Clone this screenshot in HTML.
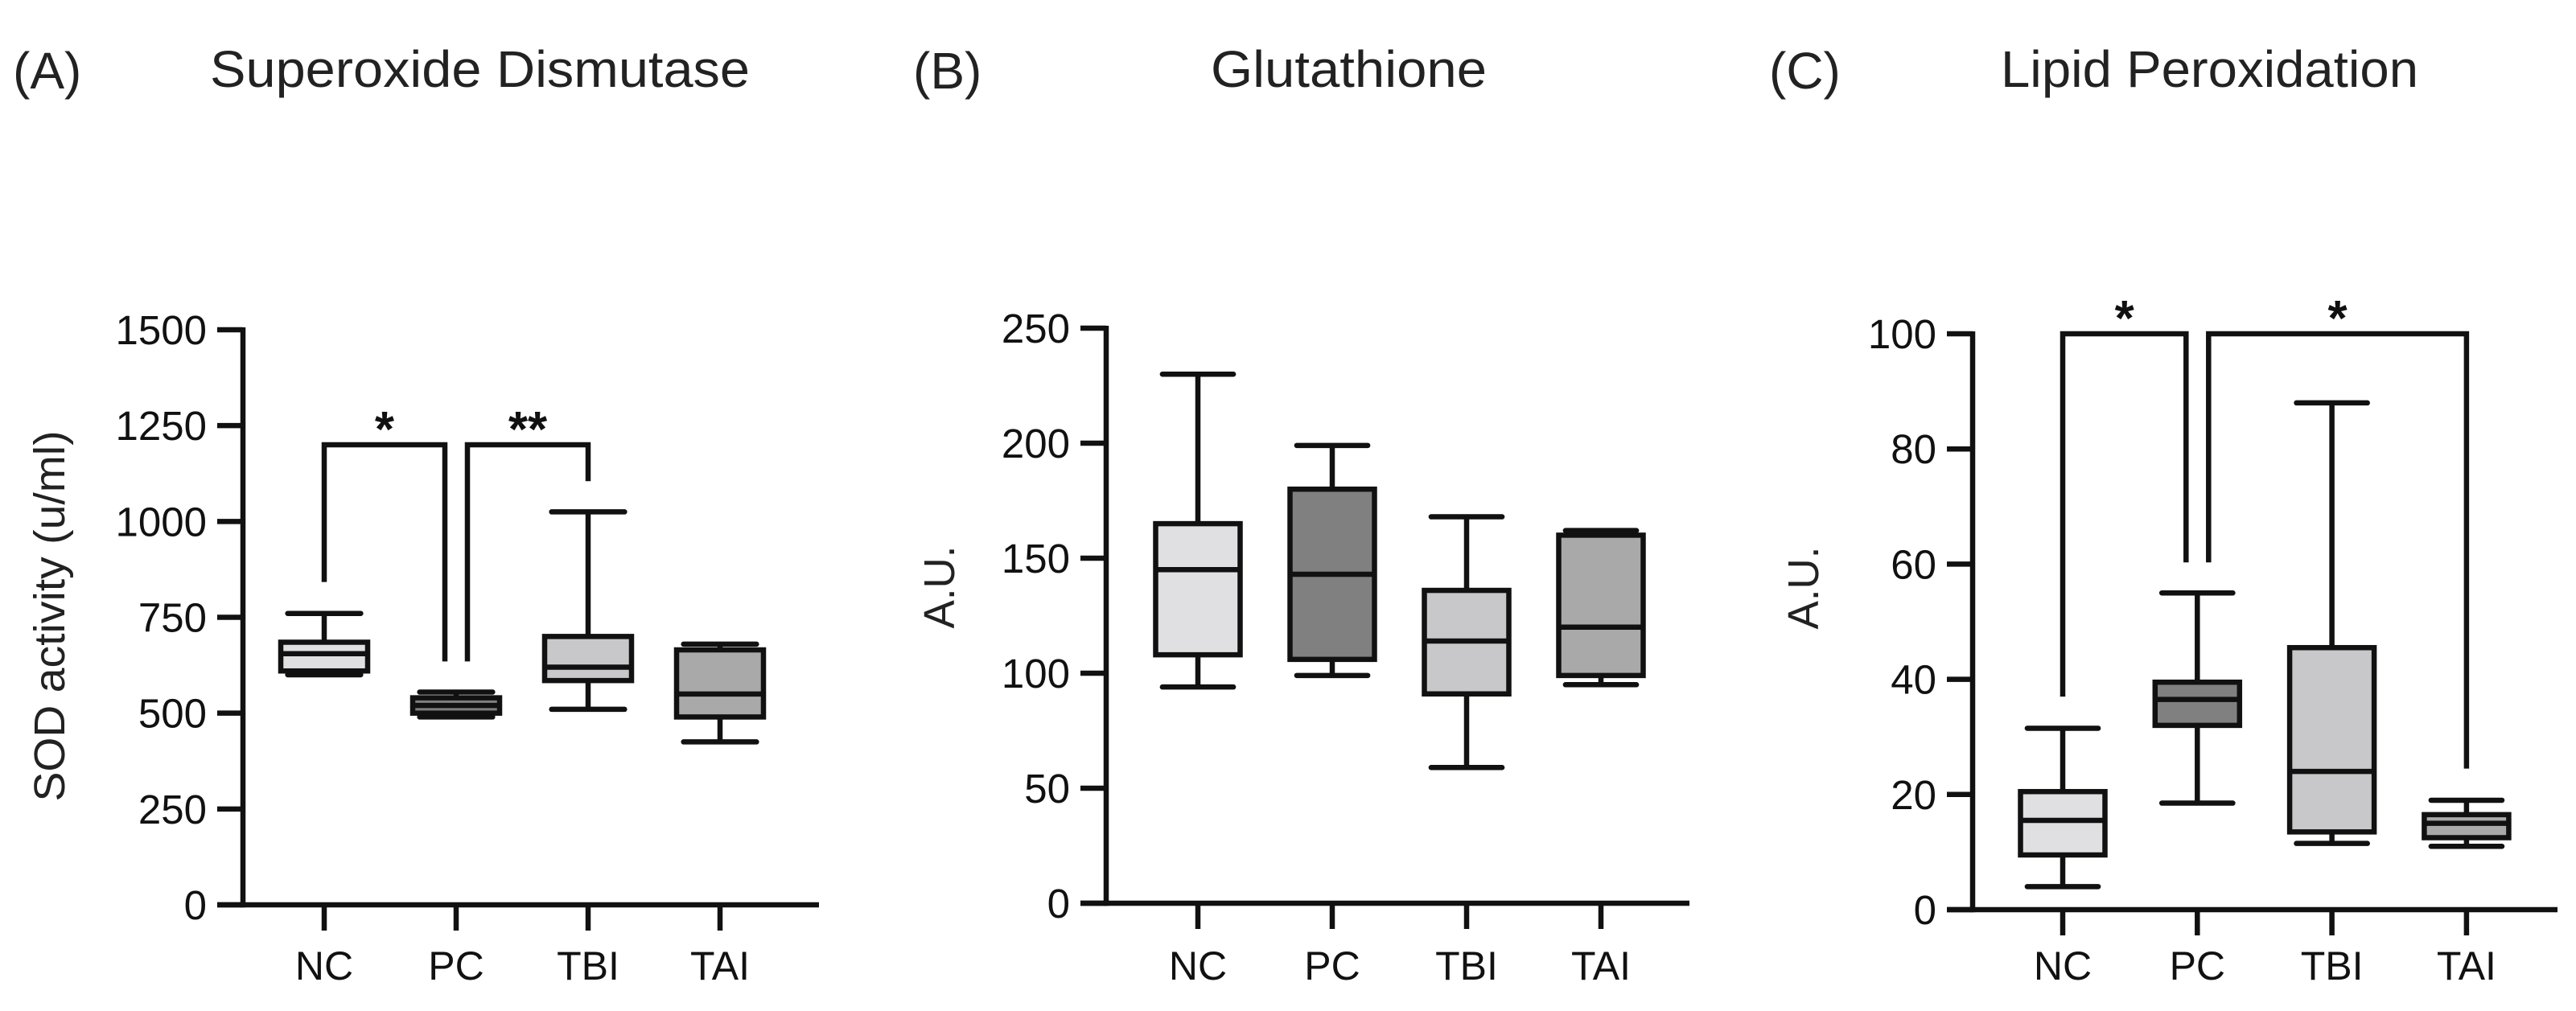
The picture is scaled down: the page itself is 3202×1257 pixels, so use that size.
<!DOCTYPE html>
<html><head><meta charset="utf-8"><style>
html,body{margin:0;padding:0;background:#fff;}
svg{display:block;font-family:"Liberation Sans",Arial,sans-serif;}
</style></head><body>
<svg id="chart" width="3202" height="1257" viewBox="0 0 3202 1257" xmlns="http://www.w3.org/2000/svg">
<rect width="3202" height="1257" fill="#fff"/>
<g>
<text x="16" y="110" font-size="64" fill="#222">(A)</text>
<text x="261" y="108" font-size="64" fill="#222" textLength="671" lengthAdjust="spacingAndGlyphs">Superoxide Dismutase</text>
</g>
<g>
<text x="1135" y="110" font-size="64" fill="#222">(B)</text>
<text x="1505" y="108" font-size="64" fill="#222" textLength="343" lengthAdjust="spacingAndGlyphs">Glutathione</text>
</g>
<g>
<text x="2199" y="110" font-size="64" fill="#222">(C)</text>
<text x="2487" y="108" font-size="64" fill="#222" textLength="519" lengthAdjust="spacingAndGlyphs">Lipid Peroxidation</text>
</g>
</svg>
<script>
const categories = ["NC","PC","TBI","TAI"];
const boxFills = ["#e0e0e2","#808080","#c8c8ca","#a9a9a9"];

// Panel A: SOD
const aTicks = [0,250,500,750,1000,1250,1500];
const aLow  = [600,490,510,425];
const aQ1   = [610,500,585,490];
const aMed  = [655,520,620,550];
const aQ3   = [685,540,700,665];
const aHigh = [760,555,1025,680];
// brackets: [fromIdx, toIdx, top, leftEnd, rightEnd, label]
const aBrackets = [[0,1,1200,842,635,"*"],[1,2,1200,635,1105,"**"]];

// Panel B: Glutathione
const bTicks = [0,50,100,150,200,250];
const bLow  = [94,99,59,95];
const bQ1   = [108,106,91,99];
const bMed  = [145,143,114,120];
const bQ3   = [165,180,136,160];
const bHigh = [230,199,168,162];
const bBrackets = [];

// Panel C: Lipid peroxidation
const cTicks = [0,20,40,60,80,100];
const cLow  = [4,18.5,11.5,11];
const cQ1   = [9.5,32,13.5,12.5];
const cMed  = [15.5,36.5,24,15];
const cQ3   = [20.5,39.5,45.5,16.5];
const cHigh = [31.5,55,88,19];
const cBrackets = [[0,1,100,37,60.3,"*"],[1,3,100,60.3,24.5,"*"]];

const NS = "http://www.w3.org/2000/svg";
const svg = document.getElementById("chart");
function mk(tag, attrs, parent){
  const e = document.createElementNS(NS, tag);
  for (const k in attrs) e.setAttribute(k, attrs[k]);
  (parent||svg).appendChild(e);
  return e;
}
const SW = 6.5;

function drawPanel(p){
  const g = mk("g", {});
  
  
  const maxV = p.ticks[p.ticks.length-1];
  const y = v => p.y0 - (v/maxV)*(p.y0 - p.yTop);
  const x = i => p.xc0 + i*p.step;
  const ya = mk("line", {x1:p.ax, y1:p.yTop-3, x2:p.ax, y2:p.y0+SW/2, stroke:"#111", "stroke-width":SW}, g);
  
  
  const xa = mk("line", {x1:p.ax-32, y1:p.y0, x2:p.axEnd, y2:p.y0, stroke:"#111", "stroke-width":SW}, g);
  
  
  p.ticks.forEach(t => {
    const tl = mk("line", {x1:p.ax-32, y1:y(t), x2:p.ax, y2:y(t), stroke:"#111", "stroke-width":SW}, g);
    
    
    const tx = mk("text", {x:p.ax-45, y:y(t)+18, "font-size":51, "text-anchor":"end", fill:"#111"}, g);
    tx.textContent = t;
    
    
  });
  const yt = mk("text", {x:0, y:0, "font-size":54, "text-anchor":"middle", fill:"#222",
    transform:`translate(${p.ytX},${p.ytY}) rotate(-90)`}, g);
  if (p.ytLen) { yt.setAttribute("textLength", p.ytLen); yt.setAttribute("lengthAdjust", "spacingAndGlyphs"); }
  yt.textContent = p.yTitle;
  
  
  categories.forEach((c,i) => {
    const xx = x(i);
    const ct = mk("line", {x1:xx, y1:p.y0, x2:xx, y2:p.y0+32, stroke:"#111", "stroke-width":SW}, g);
    
    
    const cl = mk("text", {x:xx, y:1218, "font-size":50, "text-anchor":"middle", fill:"#111"}, g);
    cl.textContent = c;
    
    
    const bg = mk("g", {}, g);
    
    
    const hw = p.bw/2, cw = p.bw*0.42;
    mk("line", {x1:xx, y1:y(p.high[i]), x2:xx, y2:y(p.q3[i]), stroke:"#111", "stroke-width":SW}, bg);
    mk("line", {x1:xx, y1:y(p.q1[i]), x2:xx, y2:y(p.low[i]), stroke:"#111", "stroke-width":SW}, bg);
    mk("line", {x1:xx-cw, y1:y(p.high[i]), x2:xx+cw, y2:y(p.high[i]), stroke:"#111", "stroke-width":SW, "stroke-linecap":"round"}, bg);
    mk("line", {x1:xx-cw, y1:y(p.low[i]), x2:xx+cw, y2:y(p.low[i]), stroke:"#111", "stroke-width":SW, "stroke-linecap":"round"}, bg);
    mk("rect", {x:xx-hw, y:y(p.q3[i]), width:p.bw, height:y(p.q1[i])-y(p.q3[i]), fill:boxFills[i], stroke:"#111", "stroke-width":SW}, bg);
    mk("line", {x1:xx-hw, y1:y(p.med[i]), x2:xx+hw, y2:y(p.med[i]), stroke:"#111", "stroke-width":SW}, bg);
  });
  p.brackets.forEach((b,k) => {
    const gap = 14;
    const x1 = x(b[0]) + (k>0 ? gap : 0), x2 = x(b[1]) - ((k===0 && p.brackets.length>1) ? gap : 0);
    const pth = mk("path", {d:`M${x1},${y(b[3])} L${x1},${y(b[2])} L${x2},${y(b[2])} L${x2},${y(b[4])}`,
      fill:"none", stroke:"#111", "stroke-width":SW}, g);
    
    
    const st = mk("text", {x:(x1+x2)/2, y:y(b[2])+2, "font-size":62, "font-weight":"bold", "text-anchor":"middle", fill:"#111"}, g);
    st.textContent = b[5];
    
    
  });
}

drawPanel({id:"panel-a", ticks:aTicks, low:aLow, q1:aQ1, med:aMed, q3:aQ3, high:aHigh, brackets:aBrackets,
  ax:302, axEnd:1018, y0:1125, yTop:410, xc0:403, step:164, bw:108, yTitle:"SOD activity (u/ml)", ytX:80, ytY:766, ytLen:461});
drawPanel({id:"panel-b", ticks:bTicks, low:bLow, q1:bQ1, med:bMed, q3:bQ3, high:bHigh, brackets:bBrackets,
  ax:1375, axEnd:2100, y0:1123, yTop:408, xc0:1489, step:167, bw:105, yTitle:"A.U.", ytX:1186, ytY:730, ytLen:103});
drawPanel({id:"panel-c", ticks:cTicks, low:cLow, q1:cQ1, med:cMed, q3:cQ3, high:cHigh, brackets:cBrackets,
  ax:2452, axEnd:3179, y0:1131, yTop:415, xc0:2564, step:167.3, bw:105, yTitle:"A.U.", ytX:2260, ytY:731, ytLen:103});
</script>
</body></html>
